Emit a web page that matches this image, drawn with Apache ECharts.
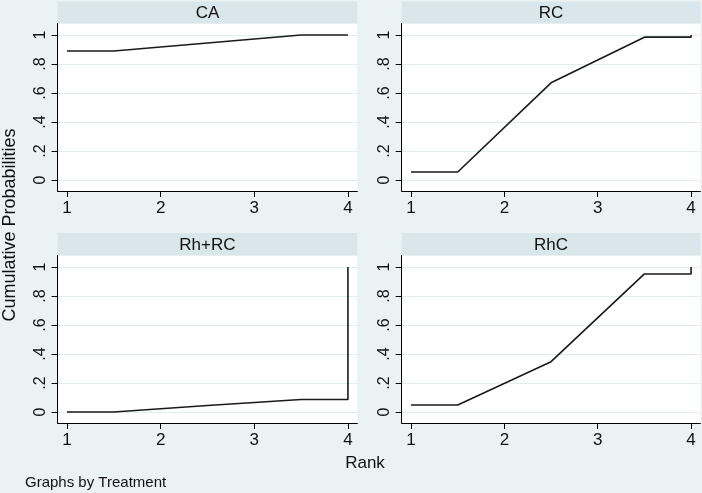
<!DOCTYPE html>
<html>
<head>
<meta charset="utf-8">
<script src="https://cdn.jsdelivr.net/npm/echarts@6/dist/echarts.min.js"></script>
<style>
  html, body { margin: 0; padding: 0; background: #eaf2f3; }
  #chart { width: 702px; height: 493px; }
</style>
</head>
<body>
<div id="chart"></div>
<script>
// rank positions used by the cumulative plot (Stata style steps)
const ranks = [1, 1.5, 2.5, 3.5, 4, 4]
const treatments = ['CA', 'RC', 'Rh+RC', 'RhC']
const probCA = [0.89, 0.89, 0.945, 1.0, 1.0, 1.0]
const probRC = [0.055, 0.055, 0.67, 0.985, 0.985, 1.0]
const probRhRC = [0.0, 0.0, 0.045, 0.086, 0.086, 1.0]
const probRhC = [0.048, 0.048, 0.347, 0.952, 0.952, 1.0]
const xTicks = [1, 2, 3, 4]
const yTicks = [0, 0.2, 0.4, 0.6, 0.8, 1]
const yTickLabels = ['0', '.2', '.4', '.6', '.8', '1']

const allProbs = [probCA, probRC, probRhRC, probRhC]
const font = 'Liberation Sans, Arial, sans-serif'

// panel boxes: left, top, width, height
const panels = [
  { left: 57.6, top: 23.4, width: 299.7, height: 167.6, headTop: 1.5 },
  { left: 401.7, top: 23.4, width: 298.7, height: 167.6, headTop: 1.5 },
  { left: 57.6, top: 255.4, width: 299.7, height: 167.6, headTop: 233 },
  { left: 401.7, top: 255.4, width: 298.7, height: 167.6, headTop: 233 }
]

const chart = echarts.init(document.getElementById('chart'))

const grids = []
const xAxes = []
const yAxes = []
const series = []
const graphics = []

panels.forEach((p, i) => {
  grids.push({
    left: p.left,
    top: p.top,
    width: p.width,
    height: p.height,
    show: true,
    backgroundColor: '#ffffff',
    borderWidth: 0
  })
  xAxes.push({
    gridIndex: i,
    type: 'value',
    min: 0.9,
    max: 4.1,
    axisLine: { show: true, onZero: false, lineStyle: { color: '#000', width: 1 } },
    axisTick: { show: true, length: 6, customValues: xTicks, lineStyle: { color: '#000' } },
    axisLabel: {
      customValues: xTicks,
      margin: 9,
      fontSize: 17,
      color: '#111',
      fontFamily: font
    },
    splitLine: { show: false }
  })
  yAxes.push({
    gridIndex: i,
    type: 'value',
    min: -0.076,
    max: 1.08,
    axisLine: { show: true, onZero: false, lineStyle: { color: '#000', width: 1 } },
    axisTick: { show: true, length: 6, customValues: yTicks, lineStyle: { color: '#000' } },
    axisLabel: {
      customValues: yTicks,
      rotate: 90,
      margin: 9,
      fontSize: 16,
      color: '#111',
      fontFamily: font,
      formatter: (v) => {
        const k = yTicks.findIndex((t) => Math.abs(t - v) < 1e-6)
        return k >= 0 ? yTickLabels[k] : ''
      }
    },
    splitLine: { show: true, lineStyle: { color: '#e3edf0', width: 1.2 } }
  })
  series.push({
    type: 'line',
    xAxisIndex: i,
    yAxisIndex: i,
    showSymbol: false,
    lineStyle: { color: '#1a1a1a', width: 1.6 },
    data: ranks.map((r, j) => [r, allProbs[i][j]])
  })
  // header strip with the treatment name
  graphics.push({
    type: 'rect',
    shape: { x: p.left, y: p.headTop, width: p.width, height: p.top - p.headTop },
    style: { fill: '#d9e6eb' },
    silent: true
  })
  graphics.push({
    type: 'text',
    x: p.left + p.width / 2,
    y: (p.headTop + p.top) / 2 + 1,
    style: {
      text: treatments[i],
      fill: '#111',
      font: '17px ' + font,
      textAlign: 'center',
      textVerticalAlign: 'middle'
    }
  })
})

graphics.push({
  type: 'text',
  x: 10,
  y: 225,
  rotation: Math.PI / 2,
  style: {
    text: 'Cumulative Probabilities',
    fill: '#111',
    font: '18px ' + font,
    textAlign: 'center',
    textVerticalAlign: 'middle'
  }
})
graphics.push({
  type: 'text',
  x: 365,
  y: 463,
  style: {
    text: 'Rank',
    fill: '#111',
    font: '17px ' + font,
    textAlign: 'center',
    textVerticalAlign: 'middle'
  }
})
graphics.push({
  type: 'text',
  x: 25,
  y: 483,
  style: {
    text: 'Graphs by Treatment',
    fill: '#111',
    font: '15px ' + font,
    textAlign: 'left',
    textVerticalAlign: 'middle'
  }
})

chart.setOption({
  backgroundColor: '#eaf2f3',
  animation: false,
  grid: grids,
  xAxis: xAxes,
  yAxis: yAxes,
  series: series,
  graphic: graphics
})
</script>
</body>
</html>
